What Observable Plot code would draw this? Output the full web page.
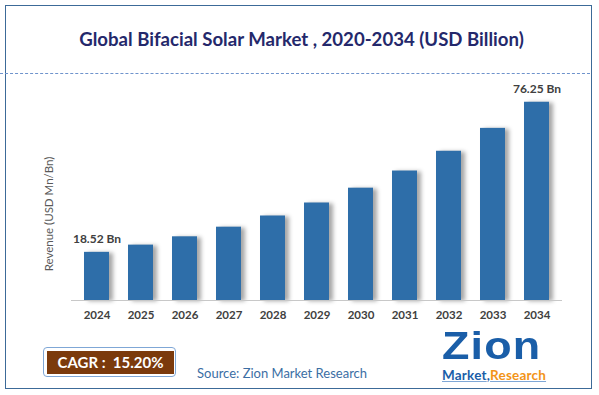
<!DOCTYPE html>
<html>
<head>
<meta charset="utf-8">
<script src="https://cdn.jsdelivr.net/npm/d3@7"></script>
<script src="https://cdn.jsdelivr.net/npm/@observablehq/plot@0.6"></script>
<style>
  html, body { margin: 0; padding: 0; background: #fff; }
  #wrap { position: relative; width: 599px; height: 395px; overflow: hidden; font-family: Lato, "Open Sans", sans-serif; }
  #chart { position: absolute; left: 0; top: 0; }
  .bars rect { filter: drop-shadow(4px 1px 2px rgba(0,0,0,0.35)); }
  .abs { position: absolute; white-space: nowrap; }
</style>
</head>
<body>
<div id="wrap">
  <div class="abs" style="left:5px;top:5px;width:585px;height:382px;border:1.5px solid #3c6a98;"></div>
  <div class="abs" style="left:0;top:73px;width:590px;border-top:1.5px dashed #6f93cc;"></div>
  <div class="abs" id="title" style="left:2px;width:599px;top:28px;text-align:center;font-size:18.6px;font-weight:bold;color:#24286b;">Global Bifacial Solar Market , 2020-2034 (USD Billion)</div>
  <div class="abs" style="left:48px;top:214px;transform:translate(-50%,-50%) rotate(-90deg);font-size:11.5px;color:#595959;">Revenue (USD Mn/Bn)</div>
  <div id="chart"></div>
  <div class="abs" style="left:43px;top:347px;width:131px;height:28px;border:1.5px solid #7fa7d6;border-radius:4px;"></div>
  <div class="abs" style="left:47px;top:351px;width:127px;height:23px;background:#7b3a0c;color:#fff;font-weight:bold;font-size:15px;line-height:23px;text-align:center;">CAGR :&nbsp; 15.20%</div>
  <div class="abs" style="left:197px;top:365px;font-size:13px;color:#3b6ea4;">Source: Zion Market Research</div>
  <div class="abs" style="left:442px;top:330px;font-family:'Liberation Sans',Arial,sans-serif;font-size:38px;font-weight:bold;color:#1a5ea8;letter-spacing:1px;line-height:32px;transform:scaleX(1.18);transform-origin:left center;">Zion</div>
  <div class="abs" style="left:442px;top:368px;font-size:13.5px;font-weight:bold;line-height:15px;letter-spacing:0.2px;"><span style="color:#1a5ea8;text-decoration:underline;text-decoration-color:#7fa7d6;">Market</span><span style="color:#1a5ea8;">,</span><span style="color:#f29418;text-decoration:underline;text-decoration-color:#7fa7d6;">Research</span></div>
</div>
<script>
const years = ["2024","2025","2026","2027","2028","2029","2030","2031","2032","2033","2034"];
const revenue = [18.52, 21.3, 24.5, 28.2, 32.5, 37.5, 43.2, 49.8, 57.4, 66.2, 76.25];
const barLabels = ["18.52 Bn","","","","","","","","","","76.25 Bn"];

const data = years.map((y, i) => ({year: y, value: revenue[i], label: barLabels[i]}));

const chart = Plot.plot({
  width: 599,
  height: 395,
  marginLeft: 71,
  marginRight: 37,
  marginTop: 92,
  marginBottom: 95,
  style: {fontFamily: "Lato, 'Open Sans', sans-serif", background: "transparent", overflow: "visible"},
  x: {domain: years, paddingInner: 0.44, paddingOuter: 0.22, label: null, tickSize: 0, tickPadding: 10},
  y: {domain: [0, 80], axis: null},
  marks: [
    Plot.barY(data, {x: "year", y: "value", fill: "#2e6ea9", className: "bars"}),
    Plot.ruleY([0], {stroke: "#c8c8c8", strokeWidth: 1.2}),
    Plot.text(data.filter(d => d.label), {x: "year", y: "value", text: "label", dy: -13, fontSize: 12, fontWeight: "bold", fill: "#404040"})
  ]
});
d3.select(chart).selectAll("g[aria-label='x-axis tick label']").attr("font-size", 11.5).attr("font-weight", "bold").attr("fill", "#404040");
d3.select(chart).selectAll("g[aria-label='x-axis tick label'] text").attr("fill", "#404040");
document.getElementById("chart").appendChild(chart);
</script>
</body>
</html>
